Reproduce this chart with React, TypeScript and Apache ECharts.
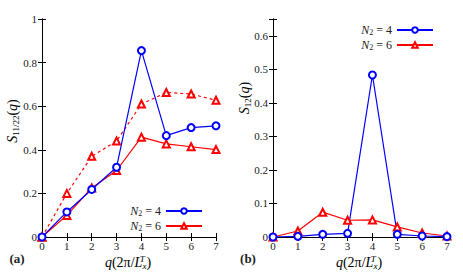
import React, { useEffect, useRef } from "react";
import * as echarts from "echarts";

const qValues = [0, 1, 2, 3, 4, 5, 6, 7];
const aN4 = [0, 0.115, 0.218, 0.32, 0.855, 0.465, 0.502, 0.51];
const aN6 = [0, 0.099, 0.225, 0.305, 0.458, 0.427, 0.414, 0.401];
const aN6dashed = [0, 0.2, 0.37, 0.44, 0.61, 0.663, 0.656, 0.627];
const bN4 = [0, 0.002, 0.008, 0.011, 0.483, 0.008, 0.003, 0.001];
const bN6 = [0, 0.018, 0.074, 0.05, 0.051, 0.03, 0.012, 0.003];
const xTicks = [0, 1, 2, 3, 4, 5, 6, 7];

const BLUE = "#0000ff";
const RED = "#ff0000";
const FONT = "Liberation Serif";
const TXT = "#222";

const pair = (ys: number[]) => qValues.map((q, i) => [q, ys[i]]);

export default function App() {
  const ref = useRef<HTMLDivElement>(null);
  useEffect(() => {
    if (!ref.current) return;
    const chart = echarts.init(ref.current, null, { renderer: "svg" });
    const grids = [
      { left: 42, top: 19, width: 174, height: 218 },
      { left: 273, top: 19, width: 174, height: 218 },
    ];
    const tickStyle = { show: true, inside: true, length: 4, lineStyle: { color: "#000", width: 1 } };
    const axisLine = { show: true, lineStyle: { color: "#000", width: 1 } };
    const tickRich = { t: { fontFamily: FONT, fontSize: 11, color: TXT } };
    const xAxes: any[] = [];
    const yAxes: any[] = [];
    [0, 1].forEach((g) => {
      xAxes.push({
        type: "value", gridIndex: g, min: 0, max: 7, interval: 1, position: "bottom",
        axisLine, axisTick: tickStyle, splitLine: { show: false },
        axisLabel: { fontFamily: FONT, fontSize: 11, color: TXT, margin: 3, rich: tickRich,
          formatter: (v: number) => (xTicks.includes(v) ? `{t|${v}}` : "") },
      });
      xAxes.push({
        type: "value", gridIndex: g, min: 0, max: 7, interval: 1, position: "top",
        axisLine, axisTick: tickStyle, splitLine: { show: false }, axisLabel: { show: false },
      });
      const ymax = g === 0 ? 1 : 0.65;
      const yint = g === 0 ? 0.2 : 0.1;
      yAxes.push({
        type: "value", gridIndex: g, min: 0, max: ymax, interval: yint, position: "left",
        axisLine, axisTick: tickStyle, splitLine: { show: false },
        axisLabel: {
          fontFamily: FONT, fontSize: 11, color: TXT, margin: 5, rich: tickRich,
          formatter: (v: number) => {
            const k = Math.round(v / yint);
            if (Math.abs(k * yint - v) > 1e-6) return "";
            return `{t|${Math.round(v * 100) / 100}}`;
          },
        },
      });
      yAxes.push({
        type: "value", gridIndex: g, min: 0, max: ymax, interval: yint, position: "right",
        axisLine, axisTick: tickStyle, splitLine: { show: false }, axisLabel: { show: false },
      });
    });

    const mk = (name: string, data: number[], color: string, symbol: string, xi: number, dashed = false) => ({
      name, type: "line", xAxisIndex: xi, yAxisIndex: xi, data: pair(data),
      symbol, symbolSize: 7,
      lineStyle: { color, width: 1.2, type: dashed ? [3, 3] : "solid" },
      itemStyle: { color, borderColor: color, borderWidth: 1.2 },
    });

    const rich = {
      i: { fontFamily: FONT, fontStyle: "italic", fontSize: 12, color: TXT, lineHeight: 12 },
      s: { fontFamily: FONT, fontSize: 8, color: TXT, verticalAlign: "bottom", lineHeight: 6 },
      n: { fontFamily: FONT, fontSize: 12, color: TXT, lineHeight: 12 },
    };
    const legendBase = {
      orient: "vertical", align: "right", itemWidth: 36, itemHeight: 7, itemGap: 3,
      padding: 0,
      textStyle: { rich, lineHeight: 12 },
      formatter: (name: string) => `{i|N}{s|2}{n| = ${name.endsWith("4") ? 4 : 6}}`,
    };

    const titleRich = {
      i: { fontFamily: FONT, fontStyle: "italic", fontSize: 14, color: TXT, lineHeight: 16 },
      n: { fontFamily: FONT, fontSize: 14, color: TXT, lineHeight: 16 },
      s: { fontFamily: FONT, fontSize: 9, color: TXT, verticalAlign: "bottom", lineHeight: 8 },
      sp: { fontFamily: FONT, fontStyle: "italic", fontSize: 9, color: TXT, verticalAlign: "top", width: 0.1, lineHeight: 5 },
      sb: { fontFamily: FONT, fontStyle: "italic", fontSize: 9, color: TXT, verticalAlign: "bottom", lineHeight: 5 },
    };

    chart.setOption({
      animation: false,
      backgroundColor: "#fff",
      textStyle: { fontFamily: FONT },
      grid: grids,
      xAxis: xAxes,
      yAxis: yAxes,
      legend: [
        { ...legendBase, data: ["a4", "a6"], right: 260, top: 205 },
        { ...legendBase, data: ["b4", "b6"], right: 29, top: 24 },
      ],
      series: [
        mk("a6dash", aN6dashed, RED, "emptyTriangle", 0, true),
        mk("a6", aN6, RED, "emptyTriangle", 0),
        mk("a4", aN4, BLUE, "emptyCircle", 0),
        mk("b6", bN6, RED, "emptyTriangle", 2),
        mk("b4", bN4, BLUE, "emptyCircle", 2),
      ],
      graphic: [
        {
          type: "text", x: 12, y: 121, rotation: Math.PI / 2,
          style: { text: "{i|S}{s|11/22}{n|(}{i|q}{n|)}", rich: titleRich, align: "center", verticalAlign: "middle" },
        },
        {
          type: "text", x: 244, y: 98, rotation: Math.PI / 2,
          style: { text: "{i|S}{s|12}{n|(}{i|q}{n|)}", rich: titleRich, align: "center", verticalAlign: "middle" },
        },
        {
          type: "text", x: 128, y: 262,
          style: { text: "{i|q}{n|(2π/}{i|L}{sp|T}{sb|x}{n|)}", rich: titleRich, align: "center", verticalAlign: "middle" },
        },
        {
          type: "text", x: 359, y: 262,
          style: { text: "{i|q}{n|(2π/}{i|L}{sp|T}{sb|x}{n|)}", rich: titleRich, align: "center", verticalAlign: "middle" },
        },
        {
          type: "text", x: 17, y: 258,
          style: { text: "(a)", fontFamily: FONT, fontWeight: "bold", fontSize: 13, fill: TXT, align: "center", verticalAlign: "middle" },
        },
        {
          type: "text", x: 248, y: 258,
          style: { text: "(b)", fontFamily: FONT, fontWeight: "bold", fontSize: 13, fill: TXT, align: "center", verticalAlign: "middle" },
        },
      ],
    });
    return () => chart.dispose();
  }, []);
  return <div ref={ref} style={{ width: 463, height: 275, position: "absolute", left: 0, top: 0 }} />;
}
